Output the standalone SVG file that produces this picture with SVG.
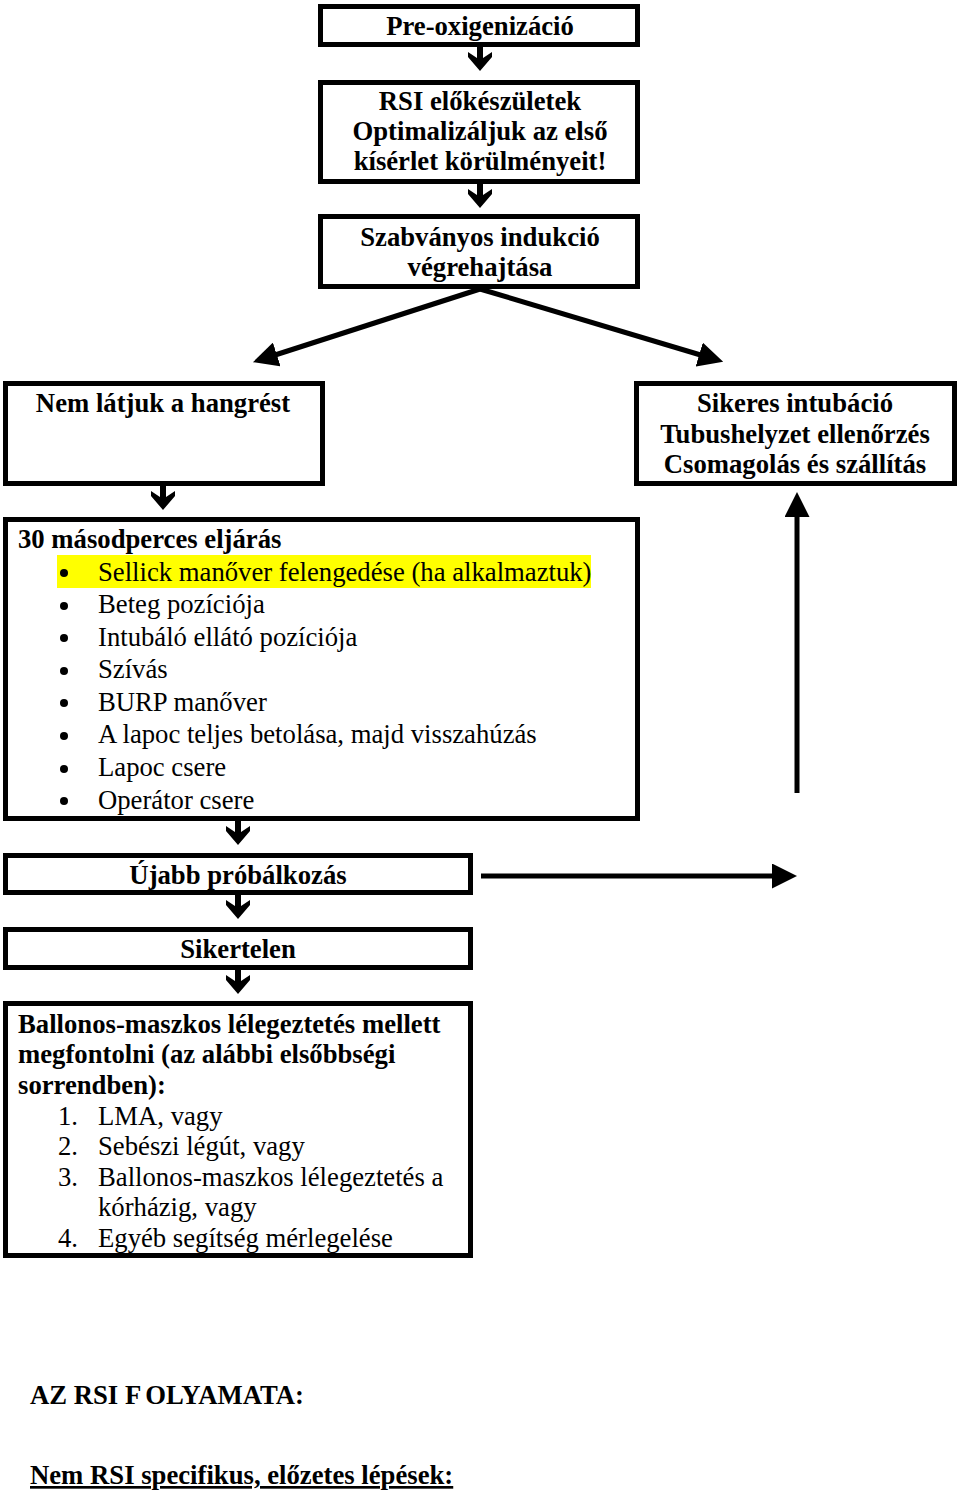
<svg xmlns="http://www.w3.org/2000/svg" width="960" height="1493" viewBox="0 0 960 1493">
<style>
.box{fill:#fff;stroke:#000;stroke-width:5}
.b{font-family:"Liberation Serif","Times New Roman",serif;font-weight:bold;font-size:26.7px;fill:#000}
.r{font-family:"Liberation Serif","Times New Roman",serif;font-size:26.7px;fill:#000}
.c{text-anchor:middle}
.ln{stroke:#000;stroke-width:5;fill:none}
</style>
<defs>
<marker id="ah" markerWidth="5" markerHeight="5" refX="1" refY="2.5" orient="auto" markerUnits="strokeWidth">
<path d="M0,0 L5,2.5 L0,5 Z" fill="#000"/>
</marker>
<path id="down" d="M-3,0 H3 V11 L12,5 L12,10 L0,24 L-12,10 L-12,5 L-3,11 Z" fill="#000"/>
</defs>
<rect width="960" height="1493" fill="#fff"/>

<g id="connectors">
<use href="#down" x="480" y="47"/>
<use href="#down" x="480" y="184"/>
<use href="#down" x="163" y="486"/>
<use href="#down" x="238" y="821"/>
<use href="#down" x="238" y="895"/>
<use href="#down" x="238" y="970"/>
<line class="ln" x1="480" y1="289" x2="272" y2="356" marker-end="url(#ah)"/>
<line class="ln" x1="480" y1="289" x2="704" y2="356" marker-end="url(#ah)"/>
<line class="ln" x1="481" y1="876" x2="777" y2="876" marker-end="url(#ah)"/>
<line class="ln" x1="797" y1="793" x2="797" y2="512" marker-end="url(#ah)"/>
</g>

<g id="n1">
<rect class="box" x="320.5" y="6.5" width="317" height="38"/>
<text class="b c" x="480" y="35">Pre-oxigenizáció</text>
</g>
<g id="n2">
<rect class="box" x="320.5" y="82.5" width="317" height="99"/>
<text class="b c" x="480" y="110">RSI előkészületek</text>
<text class="b c" x="480" y="140">Optimalizáljuk az első</text>
<text class="b c" x="480" y="170">kísérlet körülményeit!</text>
</g>
<g id="n3">
<rect class="box" x="320.5" y="216.5" width="317" height="70"/>
<text class="b c" x="480" y="246">Szabványos indukció</text>
<text class="b c" x="480" y="276">végrehajtása</text>
</g>
<g id="n4">
<rect class="box" x="5.5" y="383.5" width="317" height="100"/>
<text class="b c" x="163" y="412">Nem látjuk a hangrést</text>
</g>
<g id="n5">
<rect class="box" x="636.5" y="383.5" width="318" height="100"/>
<text class="b c" x="795" y="412">Sikeres intubáció</text>
<text class="b c" x="795" y="443">Tubushelyzet ellenőrzés</text>
<text class="b c" x="795" y="473">Csomagolás és szállítás</text>
</g>
<g id="n6">
<rect class="box" x="5.5" y="519.5" width="632" height="299"/>
<rect x="57" y="555" width="534" height="33" fill="#ffff00"/>
<text class="b" x="18" y="548">30 másodperces eljárás</text>
<g fill="#000">
<circle cx="64" cy="573" r="4"/>
<circle cx="64" cy="606" r="4"/>
<circle cx="64" cy="638" r="4"/>
<circle cx="64" cy="671" r="4"/>
<circle cx="64" cy="703" r="4"/>
<circle cx="64" cy="736" r="4"/>
<circle cx="64" cy="769" r="4"/>
<circle cx="64" cy="801" r="4"/>
</g>
<text class="r" x="98" y="581">Sellick manőver felengedése (ha alkalmaztuk)</text>
<text class="r" x="98" y="613">Beteg pozíciója</text>
<text class="r" x="98" y="646">Intubáló ellátó pozíciója</text>
<text class="r" x="98" y="678">Szívás</text>
<text class="r" x="98" y="711">BURP manőver</text>
<text class="r" x="98" y="743">A lapoc teljes betolása, majd visszahúzás</text>
<text class="r" x="98" y="776">Lapoc csere</text>
<text class="r" x="98" y="809">Operátor csere</text>
</g>
<g id="n7">
<rect class="box" x="5.5" y="855.5" width="465" height="37"/>
<text class="b c" x="238" y="884">Újabb próbálkozás</text>
</g>
<g id="n8">
<rect class="box" x="5.5" y="929.5" width="465" height="38"/>
<text class="b c" x="238" y="958">Sikertelen</text>
</g>
<g id="n9">
<rect class="box" x="5.5" y="1003.5" width="465" height="252"/>
<text class="b" x="18" y="1033">Ballonos-maszkos lélegeztetés mellett</text>
<text class="b" x="18" y="1063">megfontolni (az alábbi elsőbbségi</text>
<text class="b" x="18" y="1094">sorrendben):</text>
<text class="r" x="58" y="1125">1.</text><text class="r" x="98" y="1125">LMA, vagy</text>
<text class="r" x="58" y="1155">2.</text><text class="r" x="98" y="1155">Sebészi légút, vagy</text>
<text class="r" x="58" y="1186">3.</text><text class="r" x="98" y="1186">Ballonos-maszkos lélegeztetés a</text>
<text class="r" x="98" y="1216">kórházig, vagy</text>
<text class="r" x="58" y="1247">4.</text><text class="r" x="98" y="1247">Egyéb segítség mérlegelése</text>
</g>
<g id="titles">
<text class="b" x="30" y="1404">AZ RSI F<tspan dx="4">OLYAMATA:</tspan></text>
<text class="b" x="30" y="1484" text-decoration="underline">Nem RSI specifikus, előzetes lépések:</text>
</g>
</svg>
